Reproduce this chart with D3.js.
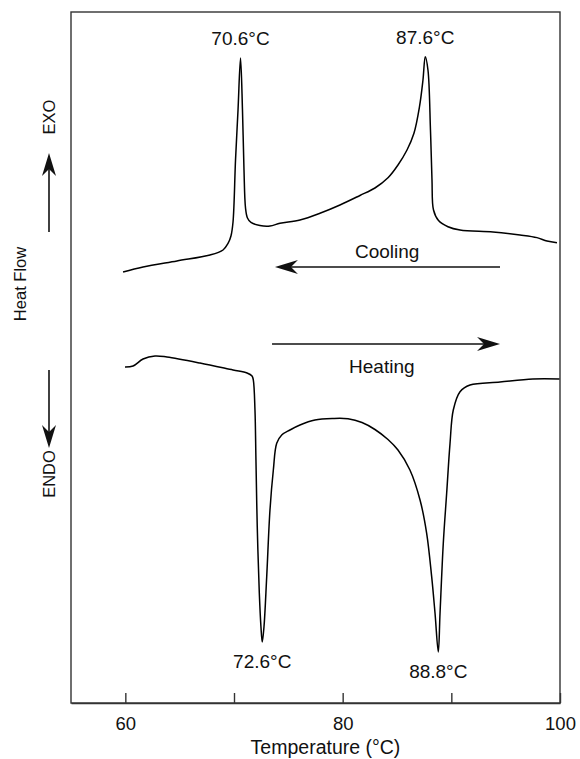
<!DOCTYPE html>
<html>
<head>
<meta charset="utf-8">
<script src="https://cdn.jsdelivr.net/npm/d3@7"></script>
<style>
  body { margin: 0; background: #fff; }
  text { font-family: "Liberation Sans", Arial, Helvetica, sans-serif; fill: #111; }
</style>
</head>
<body>
<svg id="chart" width="580" height="759"></svg>
<script>
// DSC thermogram: cooling (exothermic peaks) and heating (endothermic dips)
// Temperatures in °C, heat flow in arbitrary units (exo up).
const coolingTemp = [59.79, 61.63, 64.75, 67.79, 68.99, 69.45, 69.72, 69.91, 70.14, 70.37, 70.6,
  70.78, 70.92, 71.06, 71.24, 71.56, 72.39, 73.31, 74.23, 76.07, 77.91, 79.75, 81.59, 82.97,
  84.17, 85.09, 85.92, 86.56, 87.07, 87.39, 87.6, 87.85, 88.08, 88.22, 88.36, 88.82, 89.69,
  90.80, 93.83, 96.32, 97.88, 98.80, 99.72];
const coolingFlow = [62.37, 63.10, 63.97, 64.83, 65.56, 66.50, 67.58, 69.61, 78.58, 85.82, 93.34,
  85.82, 77.13, 71.64, 70.19, 69.54, 69.10, 69.03, 69.42, 69.90, 70.87, 72.07, 73.45, 74.53,
  76.01, 77.86, 80.03, 82.45, 86.30, 90.16, 93.53, 91.61, 82.92, 75.69, 71.35, 69.83, 68.93,
  68.45, 68.16, 67.73, 67.35, 66.85, 66.60];

const heatingTemp = [59.97, 60.71, 61.63, 62.73, 63.83, 66.87, 69.91, 71.20, 71.66, 71.78, 71.93,
  72.02, 72.14, 72.33, 72.48, 72.6, 72.76, 73.01, 73.31, 73.62, 73.93, 74.39, 75.15, 76.07,
  77.45, 79.11, 80.49, 81.78, 82.97, 84.17, 85.09, 86.19, 87.12, 87.73, 88.19, 88.50, 88.8,
  88.96, 89.26, 89.57, 89.88, 90.18, 90.80, 91.72, 94.48, 97.51, 99.95];
const heatingFlow = [48.63, 48.77, 49.78, 50.22, 50.07, 49.20, 48.19, 47.76, 47.32, 46.74, 42.40,
  35.17, 25.51, 15.88, 11.04, 8.83, 11.04, 18.28, 27.93, 33.72, 37.58, 38.78, 39.51, 40.23,
  40.95, 41.17, 41.13, 40.59, 39.58, 38.13, 36.61, 33.72, 29.38, 24.56, 18.28, 12.98, 7.38,
  12.98, 23.11, 30.35, 37.58, 42.40, 45.05, 46.02, 46.45, 46.89, 46.89];

// Peak temperatures printed next to each transition
const exoPeaks = [70.6, 87.6];
const endoPeaks = [72.6, 88.8];

const tickValues = [60, 70, 80, 90, 100];
const tickLabels = ["60", "", "80", "", "100"];

const svg = d3.select("#chart");
const frame = { left: 71, top: 12, right: 560, bottom: 703 };

const x = d3.scaleLinear().domain([55, 100]).range([frame.left, frame.right]);
const y = d3.scaleLinear().domain([0, 100]).range([frame.bottom, frame.top]);

const toPoints = (ts, vs) => ts.map((t, i) => [t, vs[i]]);
const cooling = toPoints(coolingTemp, coolingFlow);
const heating = toPoints(heatingTemp, heatingFlow);

// plot frame
svg.append("rect")
  .attr("x", frame.left).attr("y", frame.top)
  .attr("width", frame.right - frame.left).attr("height", frame.bottom - frame.top)
  .attr("fill", "none").attr("stroke", "#333").attr("stroke-width", 1.4);

// bottom axis with inward ticks
const xAxis = d3.axisBottom(x)
  .tickValues(tickValues)
  .tickSizeInner(-10)
  .tickSizeOuter(0)
  .tickPadding(14)
  .tickFormat((d, i) => tickLabels[i]);

const gx = svg.append("g")
  .attr("transform", `translate(0,${frame.bottom})`)
  .call(xAxis);
gx.select(".domain").attr("stroke", "#333").attr("stroke-width", 1.4);
gx.selectAll(".tick line").attr("stroke", "#333").attr("stroke-width", 1.4);
gx.selectAll(".tick text")
  .style("font-family", '"Liberation Sans", Arial, sans-serif')
  .style("font-size", "18.5px").attr("fill", "#111");

svg.append("text")
  .attr("x", (frame.left + frame.right) / 2 + 10)
  .attr("y", 754)
  .attr("text-anchor", "middle")
  .style("font-size", "19.5px")
  .text("Temperature (°C)");

// curves
const line = d3.line()
  .x(d => x(d[0]))
  .y(d => y(d[1]))
  .curve(d3.curveCatmullRom.alpha(0.5));

[cooling, heating].forEach(series => {
  svg.append("path")
    .datum(series)
    .attr("d", line)
    .attr("fill", "none")
    .attr("stroke", "#000")
    .attr("stroke-width", 1.5)
    .attr("stroke-linejoin", "round");
});

// peak labels
const peakValue = (series, t) => series.find(d => d[0] === t)[1];
exoPeaks.forEach(t => {
  svg.append("text")
    .attr("x", x(t)).attr("y", y(peakValue(cooling, t)) - 13)
    .attr("text-anchor", "middle").style("font-size", "19px")
    .text(`${t.toFixed(1)}°C`);
});
endoPeaks.forEach(t => {
  svg.append("text")
    .attr("x", x(t)).attr("y", y(peakValue(heating, t)) + 26)
    .attr("text-anchor", "middle").style("font-size", "19px")
    .text(`${t.toFixed(1)}°C`);
});

// barbed arrowhead pointing along +x, tip at origin
const headPath = "M0,0 L-23,-7 L-16,0 L-23,7 Z";

function arrow(x1, y1, x2, y2) {
  const ang = Math.atan2(y2 - y1, x2 - x1) * 180 / Math.PI;
  const len = Math.hypot(x2 - x1, y2 - y1);
  const g = svg.append("g")
    .attr("transform", `translate(${x2},${y2}) rotate(${ang})`);
  g.append("line")
    .attr("x1", -len).attr("y1", 0).attr("x2", -16).attr("y2", 0)
    .attr("stroke", "#111").attr("stroke-width", 1.6);
  g.append("path").attr("d", headPath).attr("fill", "#111");
}

// scan direction arrows
arrow(x(94.48), y(63.1), x(73.77), y(63.1));
svg.append("text")
  .attr("x", x(84.1)).attr("y", y(64.4))
  .attr("text-anchor", "middle").style("font-size", "19px")
  .text("Cooling");

arrow(x(73.5), y(51.95), x(94.48), y(51.95));
svg.append("text")
  .attr("x", x(83.6)).attr("y", y(47.7))
  .attr("text-anchor", "middle").style("font-size", "19px")
  .text("Heating");

// vertical heat-flow legend in the left margin
arrow(49, 232, 49, 153);
arrow(49, 370, 49, 448);

const vText = (cx, cy, s) => svg.append("text")
  .attr("transform", `translate(${cx},${cy}) rotate(-90)`)
  .attr("text-anchor", "middle")
  .style("font-size", "16.5px")
  .text(s);

vText(55, 117, "EXO");
vText(26, 284, "Heat Flow");
vText(55, 474, "ENDO");
</script>
</body>
</html>
